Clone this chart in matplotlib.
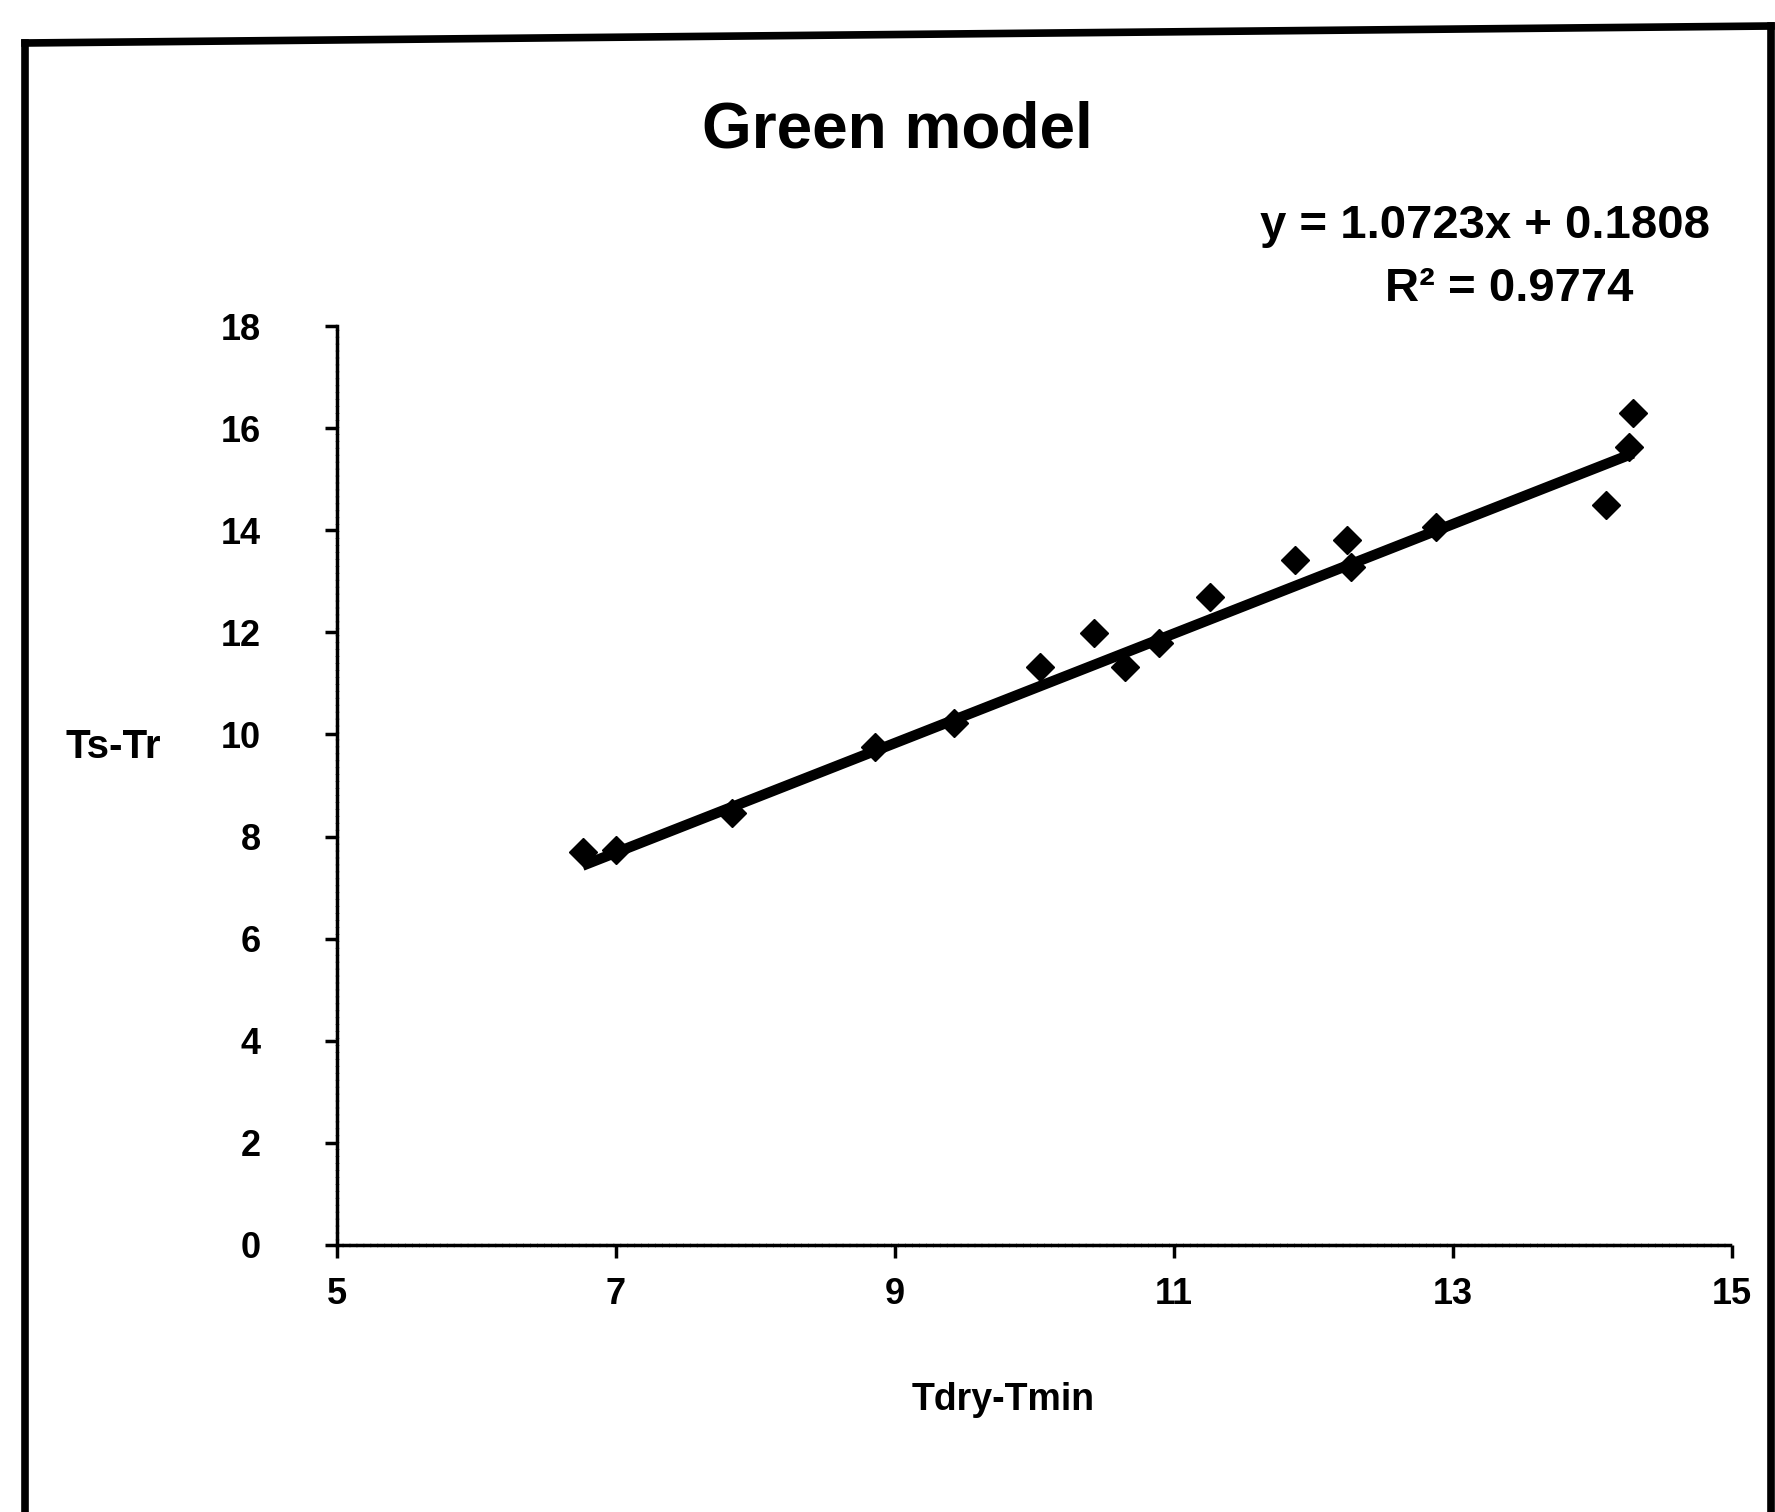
import matplotlib
matplotlib.use('Agg')
import matplotlib.pyplot as plt
import numpy as np
from matplotlib.lines import Line2D

plt.rcParams['font.family'] = ['Liberation Sans', 'DejaVu Sans']

# readings
x_vals = [6.76, 7.00, 7.83, 8.86, 9.42, 10.04, 10.43, 10.65, 10.89,
          11.26, 11.87, 12.24, 12.27, 12.88, 14.10, 14.26, 14.29]
y_vals = [7.70, 7.73, 8.46, 9.75, 10.22, 11.32, 11.98, 11.32, 11.79,
          12.69, 13.42, 13.81, 13.28, 14.06, 14.49, 15.63, 16.29]
slope, intercept, r2 = 1.0723, 0.1808, 0.9774
x_ticks = [5, 7, 9, 11, 13, 15]
y_ticks = list(range(0, 19, 2))

W, H = 1775, 1512
fig = plt.figure(figsize=(W / 100, H / 100), dpi=100)

def fx(px):
    return px / W

def fy(py):
    return 1 - py / H

# outer frame of the scanned chart
for xs, ys in [((25, 1771), (43, 26)), ((25, 25), (43, 1530)), ((1771, 1771), (26, 1530))]:
    fig.add_artist(Line2D([fx(v) for v in xs], [fy(v) for v in ys], color='black', lw=5.5,
                          transform=fig.transFigure))

ax = fig.add_axes([fx(337), fy(1245), fx(1732 - 337), (1245 - 326) / H])
ax.set_xlim(5, 15)
ax.set_ylim(0, 18)

xs = np.array([min(x_vals), max(x_vals)])
ax.plot(xs, slope * xs + intercept, color='black', lw=7.5, solid_capstyle='butt', zorder=2)
ax.plot(x_vals, y_vals, 'D', color='black', markersize=14, zorder=3)

for s in ['top', 'right']:
    ax.spines[s].set_visible(False)
for s in ['left', 'bottom']:
    ax.spines[s].set_linestyle((0, (1.2, 0.8)))
    ax.spines[s].set_linewidth(2.5)

ax.set_xticks(x_ticks)
ax.set_yticks(y_ticks)
ax.tick_params(axis='both', direction='out', length=9, width=2.5, labelsize=26)
ax.tick_params(axis='y', pad=46)
ax.tick_params(axis='x', pad=14)
for lab in ax.get_xticklabels() + ax.get_yticklabels():
    lab.set_fontweight('bold')

fig.text(fx(897), fy(130), 'Green model', ha='center', va='center', fontsize=46, fontweight='bold')
fig.text(fx(1260), fy(226), f'y = {slope:.4f}x + {intercept:.4f}', ha='left', va='center',
         fontsize=34, fontweight='bold')
fig.text(fx(1509), fy(289), f'R² = {r2:.4f}', ha='center', va='center', fontsize=34,
         fontweight='bold')
fig.text(fx(113), fy(747), 'Ts-Tr', ha='center', va='center', fontsize=29, fontweight='bold')
fig.text(fx(1003), fy(1400), 'Tdry-Tmin', ha='center', va='center', fontsize=27, fontweight='bold')

fig.savefig('out.png', dpi=100)
